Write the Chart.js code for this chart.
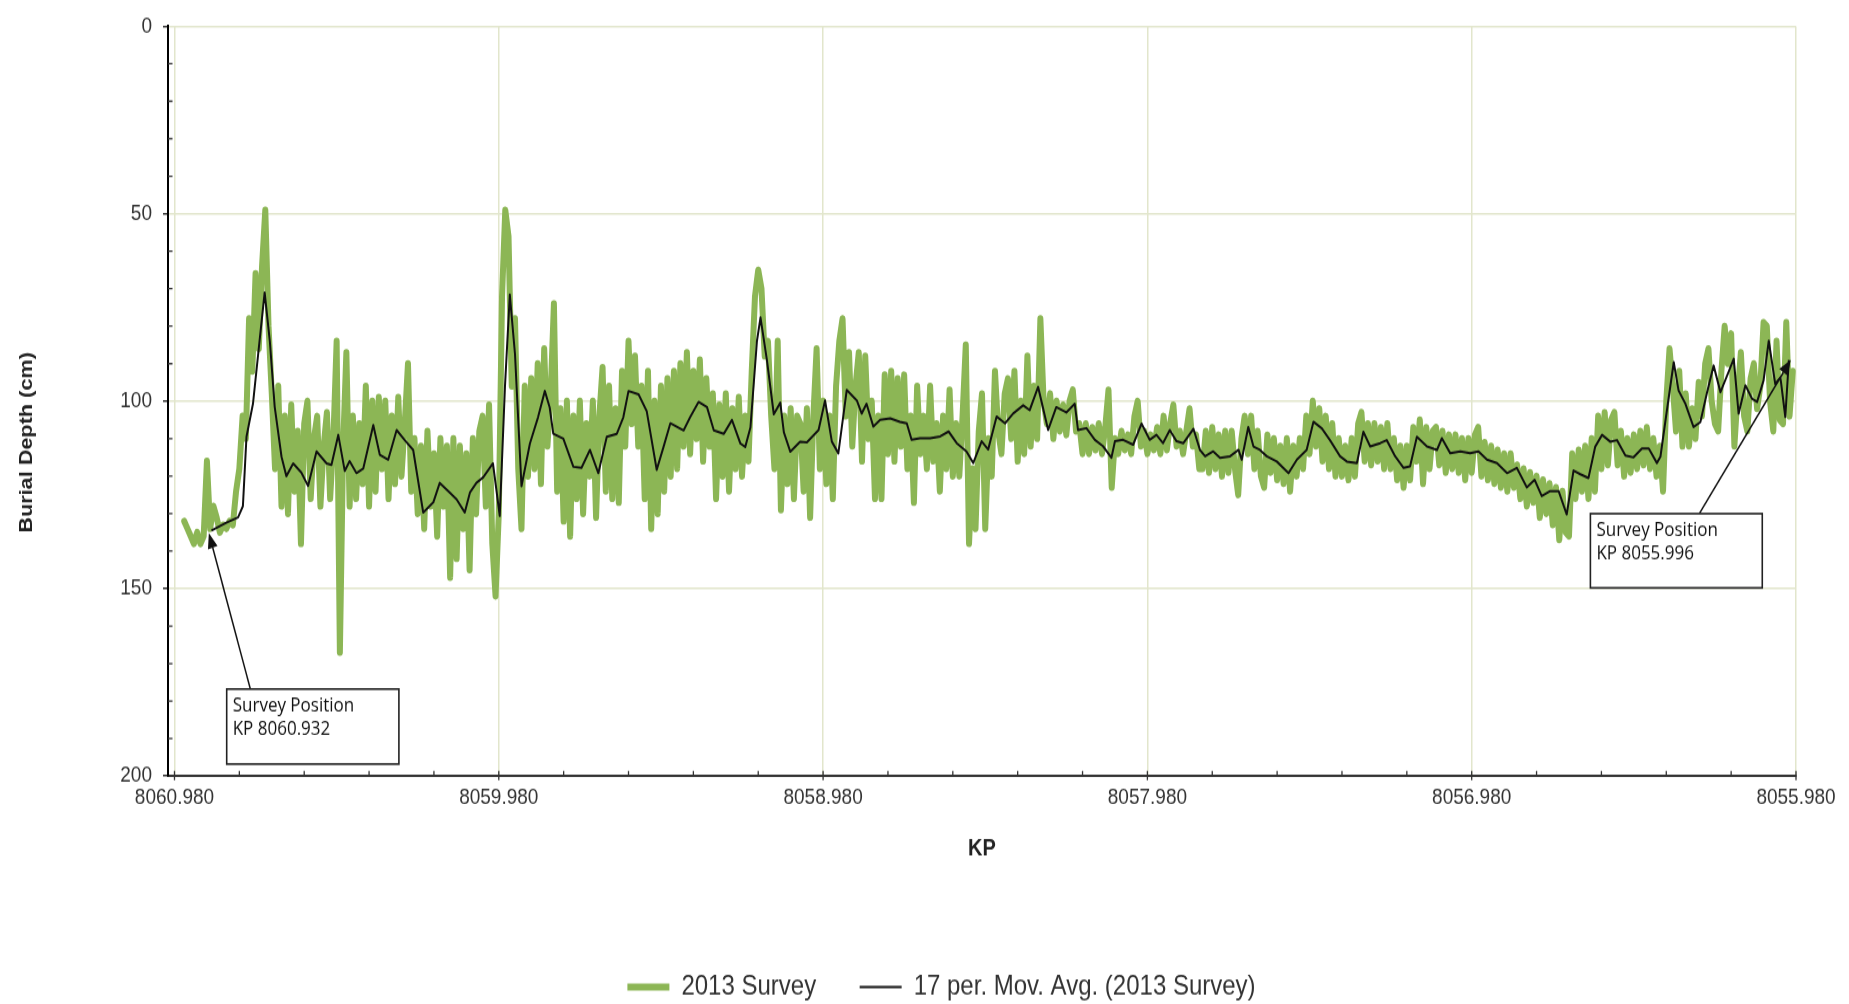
<!DOCTYPE html>
<html>
<head>
<meta charset="utf-8">
<title>Burial Depth – 2013 Survey</title>
<script src="https://cdn.jsdelivr.net/npm/chart.js@4.4.1/dist/chart.umd.min.js"></script>
<style>
  html { overflow: hidden; background: #fff; }
  body { margin: 0; padding: 0; width: 1849px; height: 1004px; background: #fff; }
  /* the chart is laid out at 1849x858 and stretched to the full window height */
  #frame { width: 1849px; height: 858px; transform-origin: 0 0; transform: scaleY(1.17016); }
  canvas { display: block; }
</style>
</head>
<body>
<div id="frame"><canvas id="chart" width="1849" height="858"></canvas></div>
<script>
// ---- survey samples: burial depth (cm), one every 0.01 KP from KP 8060.950 ----
const surveyStartKp = 8060.95;
const surveyStepKp = 0.01;
const surveyDepth = [
  132, 134, 136, 138, 135, 138, 136, 116, 134, 128,
  131, 135, 133, 134, 132, 133, 124, 118, 104, 110,
  78, 92, 66, 86, 64, 49, 80, 98, 118, 96,
  128, 104, 130, 101, 124, 108, 138, 106, 100, 126,
  110, 104, 128, 112, 103, 126, 110, 84, 167, 112,
  87, 128, 104, 126, 106, 122, 96, 128, 100, 124,
  99, 118, 100, 126, 104, 122, 99, 120, 106, 90,
  124, 110, 130, 112, 134, 108, 128, 114, 136, 110,
  128, 112, 147, 110, 142, 112, 134, 114, 145, 110,
  130, 108, 104, 128, 101, 138, 152, 130, 72, 49,
  56, 96, 78, 118, 134, 96, 120, 94, 118, 90,
  122, 86, 112, 98, 74, 124, 102, 132, 100, 136,
  104, 126, 100, 130, 106, 120, 100, 131, 104, 91,
  124, 96, 126, 102, 127, 92, 112, 84, 106, 88,
  112, 96, 126, 92, 134, 100, 130, 96, 124, 94,
  120, 92, 118, 90, 112, 87, 114, 92, 110, 89,
  116, 94, 112, 98, 126, 101, 120, 98, 124, 102,
  118, 99, 120, 104, 116, 92, 72, 65, 70, 88,
  84, 104, 118, 84, 129, 104, 122, 102, 126, 104,
  106, 124, 102, 131, 104, 86, 118, 100, 122, 104,
  126, 96, 84, 78, 104, 87, 112, 96, 87, 116,
  88, 110, 100, 126, 104, 126, 93, 114, 92, 116,
  94, 112, 93, 118, 104, 127, 96, 114, 104, 118,
  96, 116, 106, 124, 104, 118, 97, 120, 106, 120,
  104, 85, 138, 118, 134, 108, 98, 134, 110, 120,
  92, 108, 114, 98, 94, 110, 92, 116, 100, 114,
  88, 112, 96, 110, 78, 100, 106, 98, 110, 100,
  108, 101, 109, 100, 97, 108, 106, 114, 106, 114,
  107, 113, 106, 114, 107, 97, 123, 110, 114, 108,
  113, 109, 114, 104, 100, 112, 108, 114, 109, 113,
  107, 114, 104, 113, 106, 101, 112, 108, 114, 108,
  102, 112, 109, 118, 118, 108, 119, 107, 118, 109,
  120, 108, 119, 108, 118, 125, 110, 104, 114, 104,
  118, 108, 120, 123, 109, 119, 110, 121, 112, 122,
  110, 124, 112, 120, 110, 118, 104, 114, 100, 112,
  102, 116, 104, 118, 106, 120, 110, 120, 112, 121,
  110, 120, 106, 103, 116, 106, 117, 106, 116, 107,
  118, 106, 118, 110, 121, 112, 123, 112, 121, 107,
  116, 105, 122, 107, 118, 108, 107, 117, 108, 119,
  109, 118, 109, 119, 110, 121, 110, 119, 109, 107,
  120, 111, 121, 112, 122, 113, 123, 114, 124, 114,
  123, 117, 126, 118, 128, 119, 127, 120, 131, 121,
  130, 122, 133, 123, 137, 124, 135, 136, 114, 126,
  113, 124, 112, 126, 110, 124, 104, 118, 103, 117,
  105, 103, 117, 108, 120, 110, 119, 109, 118, 108,
  117, 107, 118, 110, 120, 112, 124, 100, 86, 96,
  108, 92, 112, 98, 112, 102, 110, 95, 104, 90,
  86, 100, 106, 108, 92, 80, 90, 82, 112, 98,
  87, 104, 108, 94, 90, 102, 96, 79, 80, 100,
  108, 84, 105, 106, 79, 104, 92
];

// ---- 17-period moving average of the survey: trend line vertices ----
const avgKp = [
  8060.866, 8060.820, 8060.784, 8060.769, 8060.758, 8060.738, 8060.722, 8060.702, 8060.686, 8060.671,
  8060.650, 8060.635, 8060.614, 8060.589, 8060.568, 8060.542, 8060.511, 8060.496, 8060.475, 8060.455,
  8060.440, 8060.419, 8060.398, 8060.367, 8060.347, 8060.321, 8060.295, 8060.270, 8060.244, 8060.213,
  8060.182, 8060.162, 8060.131, 8060.110, 8060.085, 8060.069, 8060.049, 8060.028, 8059.998, 8059.977,
  8059.961, 8059.946, 8059.930, 8059.910, 8059.884, 8059.859, 8059.838, 8059.823, 8059.812, 8059.781,
  8059.750, 8059.725, 8059.699, 8059.673, 8059.647, 8059.616, 8059.596, 8059.580, 8059.549, 8059.524,
  8059.493, 8059.472, 8059.451, 8059.410, 8059.390, 8059.364, 8059.338, 8059.317, 8059.286, 8059.261,
  8059.235, 8059.220, 8059.204, 8059.184, 8059.173, 8059.153, 8059.132, 8059.112, 8059.101, 8059.081,
  8059.051, 8059.030, 8058.994, 8058.974, 8058.953, 8058.933, 8058.907, 8058.876, 8058.861, 8058.846,
  8058.825, 8058.804, 8058.773, 8058.743, 8058.722, 8058.707, 8058.681, 8058.650, 8058.619, 8058.593,
  8058.568, 8058.538, 8058.517, 8058.491, 8058.471, 8058.445, 8058.419, 8058.394, 8058.363, 8058.343,
  8058.317, 8058.286, 8058.261, 8058.230, 8058.204, 8058.194, 8058.168, 8058.142, 8058.117, 8058.091,
  8058.080, 8058.055, 8058.024, 8057.998, 8057.973, 8057.952, 8057.932, 8057.911, 8057.890, 8057.869,
  8057.838, 8057.818, 8057.802, 8057.777, 8057.756, 8057.725, 8057.699, 8057.689, 8057.669, 8057.653,
  8057.633, 8057.612, 8057.581, 8057.545, 8057.519, 8057.489, 8057.468, 8057.442, 8057.417, 8057.386,
  8057.365, 8057.334, 8057.314, 8057.293, 8057.262, 8057.242, 8057.216, 8057.190, 8057.170, 8057.149,
  8057.118, 8057.087, 8057.072, 8057.046, 8057.015, 8056.985, 8056.959, 8056.933, 8056.902, 8056.871,
  8056.841, 8056.810, 8056.786, 8056.764, 8056.738, 8056.712, 8056.687, 8056.666, 8056.645, 8056.620,
  8056.599, 8056.578, 8056.553, 8056.532, 8056.506, 8056.481, 8056.455, 8056.434, 8056.409, 8056.398,
  8056.378, 8056.357, 8056.342, 8056.321, 8056.296, 8056.275, 8056.254, 8056.234, 8056.213, 8056.188,
  8056.172, 8056.157, 8056.136, 8056.116, 8056.100, 8056.080, 8056.064, 8056.044, 8056.028, 8056.013,
  8056.002
];
const avgDepth = [
  134.5, 132.4, 131, 128, 109.5, 100.7, 87.5, 71, 84, 101.5,
  114.8, 120, 116.6, 119, 122.6, 113.4, 116.6, 117, 109, 118.6,
  116, 119.2, 118, 106.4, 114.3, 115.6, 107.7, 110.4, 113, 129.7,
  127, 121.8, 124.4, 126.2, 129.7, 124.4, 121.8, 120.3, 116.6, 130.6,
  96.2, 71.6, 87.5, 122.7, 111.3, 104.3, 97.3, 101.7, 108.7, 110,
  117.5, 117.8, 113, 119.2, 109.5, 108.7, 104.3, 97.3, 98.2, 102.6,
  118.3, 112.2, 105.9, 107.8, 104.3, 100.2, 101.6, 107.8, 108.7, 105,
  111.3, 112.2, 107, 84, 77.7, 89.2, 103.5, 100.4, 108.3, 113.5,
  110.8, 111, 107.7, 99.8, 110.8, 113.9, 97, 99.8, 103.3, 100.7,
  106.8, 105, 104.6, 105.5, 105.9, 110.3, 109.9, 109.9, 109.4, 108.1,
  111.2, 113.4, 116.5, 110.7, 112.9, 104.1, 105.9, 103.3, 101.1, 102.4,
  96.2, 107.7, 101.6, 103, 100.7, 107.7, 107.2, 110.3, 112, 115.1,
  110.7, 110.3, 111.6, 106, 110.3, 109, 111.2, 107.7, 110.7, 111.2,
  107.4, 113, 114.7, 113.4, 115.1, 114.7, 113, 115.6, 106.9, 112.1,
  113, 114.7, 116.1, 119.2, 115.6, 113, 105.5, 107.3, 110.4, 114.7,
  116.1, 116.5, 108.2, 112.1, 111.2, 110.4, 114.7, 117.8, 117.4, 109.5,
  112.1, 113, 109.9, 113.9, 113.4, 113.9, 113.4, 115.6, 116.5, 119.2,
  117.8, 123, 121, 125.3, 124, 124, 130.2, 118.5, 119.5, 120.5,
  112.1, 109, 110.8, 110.4, 114.5, 115, 112.6, 112.6, 116.5, 114.8,
  102.4, 89.6, 97.2, 100.7, 106.9, 105.6, 97.6, 90.5, 97.6, 92.2,
  88.7, 103.3, 95.8, 99.3, 100.2, 94.5, 83.9, 95.4, 93.7, 104.2,
  89
];

// ---- axes ----
const xTickValues = [8060.98, 8059.98, 8058.98, 8057.98, 8056.98, 8055.98];
const xTickLabels = ['8060.980', '8059.980', '8058.980', '8057.980', '8056.980', '8055.980'];
const yTickValues = [0, 50, 100, 150, 200];
const seriesNames = ['2013 Survey', '17 per. Mov. Avg. (2013 Survey)'];
const xAxisTitle = 'KP';
const yAxisTitle = 'Burial Depth (cm)';

// ---- callouts (anchored in KP / depth units) ----
const callouts = [
  { lines: ['Survey Position', 'KP 8060.932'],
    box: { kpFrom: 8060.819, kpTo: 8060.288, depthTop: 176.8, depthBottom: 196.8 },
    tail: { kp: 8060.746, depth: 176.8 }, tip: { kp: 8060.874, depth: 135.2 } },
  { lines: ['Survey Position', 'KP 8055.996'],
    box: { kpFrom: 8056.614, kpTo: 8056.084, depthTop: 130, depthBottom: 149.8 },
    tail: { kp: 8056.278, depth: 130 }, tip: { kp: 8055.996, depth: 89.0 } }
];

// ---- layout (canvas pixels) ----
const FONT = "'Liberation Sans', Arial, Helvetica, sans-serif";
const CANVAS_H = 858;
const PLOT_BOTTOM = 663.2;
const LEGEND_FONT = 24;
const LEGEND_PAD = 43.5;
const PAD = { top: 16.24, left: 87, right: 53, bottom: -7.6 };
const LEGEND_H = LEGEND_FONT + LEGEND_PAD + 10;
const X_AXIS_H = CANVAS_H - PAD.bottom - LEGEND_H - PLOT_BOTTOM;
const GRID = '#e2e6cc';
const GREEN = '#8cb655';

const surveyPoints = surveyDepth.map((d, i) => ({ x: +(surveyStartKp - i * surveyStepKp).toFixed(3), y: d }));
const avgPoints = avgKp.map((k, i) => ({ x: k, y: avgDepth[i] }));

// small inward ticks between the labelled ones
const minorTicks = {
  id: 'minorTicks',
  afterDraw(chart) {
    const { ctx, chartArea: a, scales: { x, y } } = chart;
    ctx.save();
    ctx.strokeStyle = '#333';
    ctx.lineWidth = 1.3;
    ctx.beginPath();
    for (let k = 0; k <= 25; k++) {
      const px = x.getPixelForValue(xTickValues[0] - k * 0.2);
      ctx.moveTo(px, a.bottom);
      ctx.lineTo(px, a.bottom - 4.5);
      if (k % 5 === 0) { ctx.moveTo(px, a.bottom); ctx.lineTo(px, a.bottom + 3.5); }
    }
    for (let v = 10; v < 200; v += 10) {
      if (v % 50 === 0) continue;
      const py = y.getPixelForValue(v);
      ctx.moveTo(a.left, py);
      ctx.lineTo(a.left + 4.5, py);
    }
    ctx.stroke();
    ctx.restore();
  }
};

// vertical axis title, sitting a little below the middle of the plot
const yTitle = {
  id: 'yTitle',
  afterDraw(chart) {
    const { ctx, chartArea: a } = chart;
    ctx.save();
    ctx.translate(26.7, a.top + (a.bottom - a.top) * 0.555);
    ctx.rotate(-Math.PI / 2);
    ctx.font = 'bold 18.5px ' + FONT;
    ctx.fillStyle = '#222';
    ctx.textAlign = 'center';
    ctx.textBaseline = 'middle';
    ctx.fillText(yAxisTitle, 0, 0);
    ctx.restore();
  }
};

// arrows and labelled boxes marking the survey end points
const calloutPlugin = {
  id: 'callouts',
  afterDatasetsDraw(chart) {
    const { ctx, scales: { x, y } } = chart;
    ctx.save();
    callouts.forEach(c => {
      const tx = x.getPixelForValue(c.tail.kp), ty = y.getPixelForValue(c.tail.depth);
      const hx = x.getPixelForValue(c.tip.kp), hy = y.getPixelForValue(c.tip.depth);
      const ang = Math.atan2(hy - ty, hx - tx);
      const headLen = 13, headHalf = 5;
      const bx = hx - Math.cos(ang) * headLen, by = hy - Math.sin(ang) * headLen;
      ctx.strokeStyle = '#111';
      ctx.lineWidth = 1.5;
      ctx.beginPath();
      ctx.moveTo(tx, ty);
      ctx.lineTo(bx, by);
      ctx.stroke();
      ctx.fillStyle = '#111';
      ctx.beginPath();
      ctx.moveTo(hx, hy);
      ctx.lineTo(bx + Math.sin(ang) * headHalf, by - Math.cos(ang) * headHalf);
      ctx.lineTo(bx - Math.sin(ang) * headHalf, by + Math.cos(ang) * headHalf);
      ctx.closePath();
      ctx.fill();

      const l = x.getPixelForValue(c.box.kpFrom), r = x.getPixelForValue(c.box.kpTo);
      const t = y.getPixelForValue(c.box.depthTop), b = y.getPixelForValue(c.box.depthBottom);
      ctx.fillStyle = '#fff';
      ctx.fillRect(l, t, r - l, b - t);
      ctx.strokeStyle = '#222';
      ctx.lineWidth = 1.6;
      ctx.strokeRect(l, t, r - l, b - t);
      ctx.fillStyle = '#111';
      ctx.font = '17px "Open Sans", sans-serif';
      ctx.textAlign = 'left';
      ctx.textBaseline = 'middle';
      c.lines.forEach((s, k) => ctx.fillText(s, l + 6, t + 14.5 + k * 20));
    });
    ctx.restore();
  }
};

Chart.defaults.font.family = FONT;

new Chart(document.getElementById('chart'), {
  type: 'line',
  data: {
    datasets: [
      {
        label: seriesNames[0],
        data: surveyPoints,
        borderColor: GREEN,
        backgroundColor: GREEN,
        borderWidth: 6,
        borderJoinStyle: 'round',
        borderCapStyle: 'round',
        pointRadius: 0,
        tension: 0,
        order: 1
      },
      {
        label: seriesNames[1],
        data: avgPoints,
        borderColor: '#111',
        backgroundColor: '#111',
        borderWidth: 2,
        borderJoinStyle: 'round',
        pointRadius: 0,
        tension: 0,
        order: 0
      }
    ]
  },
  options: {
    responsive: false,
    maintainAspectRatio: false,
    devicePixelRatio: 1,
    animation: false,
    events: [],
    layout: { padding: PAD },
    scales: {
      x: {
        type: 'linear',
        reverse: true,
        min: 8055.98,
        max: 8061.0,
        afterBuildTicks: scale => { scale.ticks = xTickValues.map(v => ({ value: v })); },
        afterFit: scale => { scale.height = X_AXIS_H; },
        ticks: {
          autoSkip: false,
          maxRotation: 0,
          padding: 7.4,
          color: '#333',
          font: { size: 19 },
          callback: (v, i) => xTickLabels[i]
        },
        grid: { color: GRID, lineWidth: 1.5, drawTicks: false },
        border: { display: true, color: '#333', width: 2 },
        title: {
          display: true,
          text: xAxisTitle,
          color: '#222',
          font: { size: 20, weight: 'bold' },
          padding: { top: 0, bottom: 50.5 }
        }
      },
      y: {
        type: 'linear',
        reverse: true,
        min: 0,
        max: 200,
        afterBuildTicks: scale => { scale.ticks = yTickValues.map(v => ({ value: v })); },
        afterFit: scale => { scale.width = 168 - PAD.left; },
        ticks: {
          padding: 11,
          color: '#333',
          font: { size: 19 },
          callback: v => String(v)
        },
        grid: {
          color: c => (c.tick && c.tick.value === 200 ? 'rgba(0,0,0,0)' : GRID),
          lineWidth: 1.5,
          drawTicks: true,
          tickLength: 5,
          tickColor: '#333',
          tickWidth: 1.5
        },
        border: { display: true, color: '#000', width: 2 }
      }
    },
    plugins: {
      legend: {
        display: true,
        position: 'bottom',
        labels: {
          usePointStyle: true,
          pointStyle: 'line',
          pointStyleWidth: 42,
          padding: LEGEND_PAD,
          color: '#333',
          font: { size: LEGEND_FONT },
          sort: (a, b) => a.datasetIndex - b.datasetIndex
        }
      },
      tooltip: { enabled: false }
    }
  },
  plugins: [minorTicks, yTitle, calloutPlugin]
});
</script>
</body>
</html>
